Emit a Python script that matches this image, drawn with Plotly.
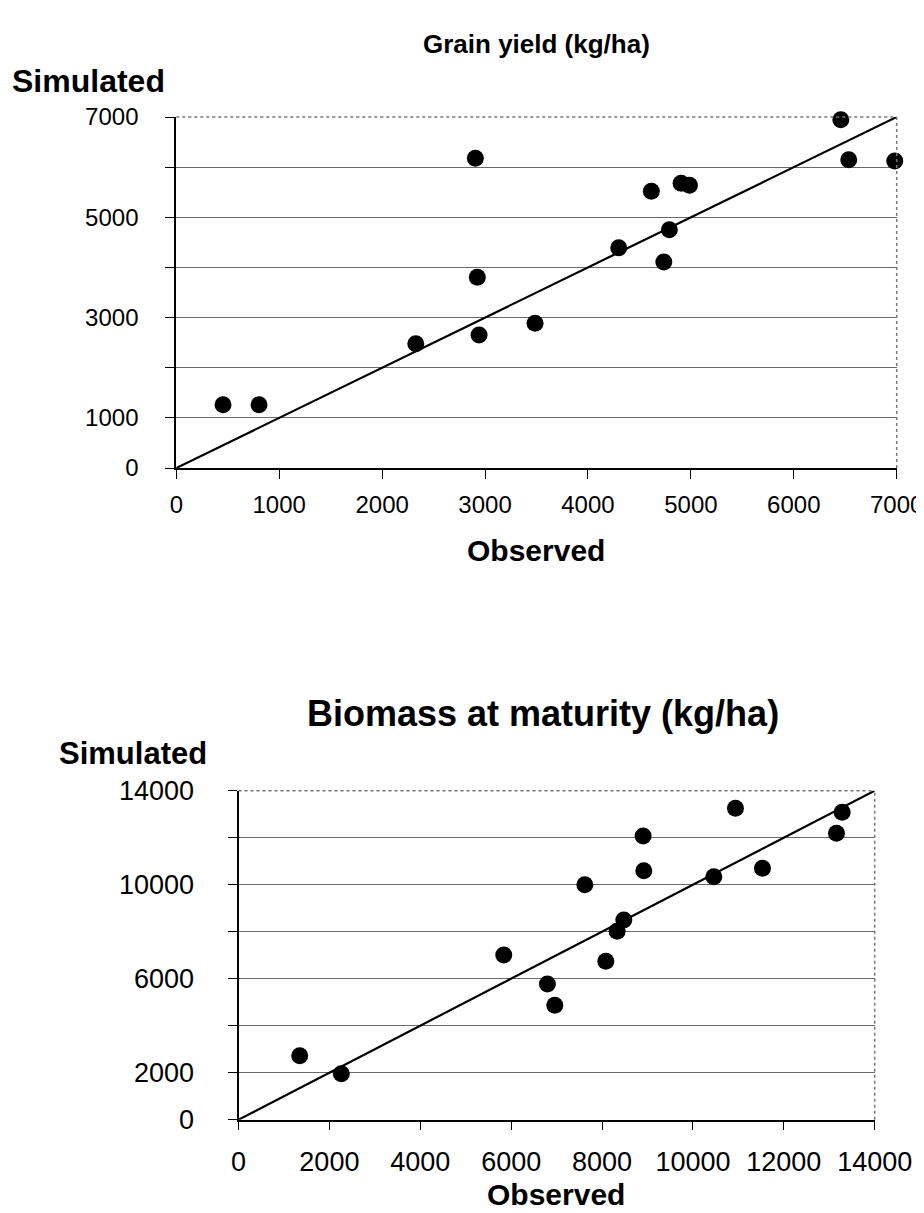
import plotly.graph_objects as go

W, H = 924, 1213

# ---- Data: Grain yield (kg/ha) ----
grain_observed = [454, 804, 2327, 2906, 2925, 2942, 3486, 4299, 4616, 4737, 4791, 4905, 4986, 6457, 6534, 6981]
grain_simulated = [1262, 1262, 2479, 6177, 3803, 2653, 2886, 4394, 5518, 4109, 4753, 5678, 5638, 6947, 6149, 6123]
grain_line = [0, 7000]
grain_x_ticks = [0, 1000, 2000, 3000, 4000, 5000, 6000, 7000]
grain_x_labels = ["0", "1000", "2000", "3000", "4000", "5000", "6000", "7000"]
grain_y_ticks = [0, 1000, 2000, 3000, 4000, 5000, 6000, 7000]
grain_y_labels = ["0", "1000", "", "3000", "", "5000", "", "7000"]

# ---- Data: Biomass at maturity (kg/ha) ----
biomass_observed = [1347, 2263, 5837, 6798, 6960, 7621, 8083, 8332, 8479, 8904, 8919, 10460, 10936, 11530, 13159, 13284]
biomass_simulated = [2723, 1957, 7009, 5774, 4868, 10000, 6740, 8017, 8498, 12072, 10596, 10340, 13251, 10698, 12187, 13081]
biomass_line = [0, 14000]
biomass_x_ticks = [0, 2000, 4000, 6000, 8000, 10000, 12000, 14000]
biomass_x_labels = ["0", "2000", "4000", "6000", "8000", "10000", "12000", "14000"]
biomass_y_ticks = [0, 2000, 4000, 6000, 8000, 10000, 12000, 14000]
biomass_y_labels = ["0", "2000", "", "6000", "", "10000", "", "14000"]

FONT = "Liberation Sans, Arial, sans-serif"


def px_x(x):
    return x / W


def px_y(y):
    return 1 - y / H


# plot area pixel boxes
top_box = dict(x0=168.3, x1=888.7, y0=109, y1=460)
bot_box = dict(x0=230.5, x1=866.7, y0=782.7, y1=1111.7)

fig = go.Figure()

fig.add_trace(go.Scatter(x=grain_line, y=grain_line, mode="lines",
                         line=dict(color="black", width=2.2),
                         xaxis="x", yaxis="y", showlegend=False, hoverinfo="skip"))
fig.add_trace(go.Scatter(x=grain_observed, y=grain_simulated, mode="markers",
                         marker=dict(color="black", size=17),
                         xaxis="x", yaxis="y", showlegend=False, cliponaxis=False))

fig.add_trace(go.Scatter(x=biomass_line, y=biomass_line, mode="lines",
                         line=dict(color="black", width=2.2),
                         xaxis="x2", yaxis="y2", showlegend=False, hoverinfo="skip"))
fig.add_trace(go.Scatter(x=biomass_observed, y=biomass_simulated, mode="markers",
                         marker=dict(color="black", size=17),
                         xaxis="x2", yaxis="y2", showlegend=False, cliponaxis=False))


def xa(size):
    return dict(showline=True, linecolor="black", linewidth=1.5, ticks="outside",
                ticklen=9, tickcolor="black", tickwidth=1, showgrid=False,
                zeroline=False, automargin=False,
                tickfont=dict(family=FONT, size=size, color="black"))


def ya(size):
    return dict(showline=True, linecolor="black", linewidth=2, ticks="outside",
                ticklen=9, tickcolor="black", tickwidth=1, showgrid=True,
                gridcolor="#6a6a6a", gridwidth=1, zeroline=False, automargin=False,
                tickfont=dict(family=FONT, size=size, color="black"))


fig.update_layout(
    width=W, height=H,
    margin=dict(l=0, r=0, t=0, b=0, pad=0, autoexpand=False),
    paper_bgcolor="white", plot_bgcolor="white",
    xaxis=dict(domain=[px_x(top_box["x0"]), px_x(top_box["x1"])], range=[0, 7000],
               tickvals=grain_x_ticks, ticktext=grain_x_labels, anchor="y",
               ticklabelstandoff=5, **xa(24)),
    yaxis=dict(domain=[px_y(top_box["y1"]), px_y(top_box["y0"])], range=[0, 7000],
               tickvals=grain_y_ticks, ticktext=grain_y_labels, anchor="x",
               ticklabelstandoff=22, **ya(24)),
    xaxis2=dict(domain=[px_x(bot_box["x0"]), px_x(bot_box["x1"])], range=[0, 14000],
                tickvals=biomass_x_ticks, ticktext=biomass_x_labels, anchor="y2",
                ticklabelstandoff=8, **xa(27)),
    yaxis2=dict(domain=[px_y(bot_box["y1"]), px_y(bot_box["y0"])], range=[0, 14000],
                tickvals=biomass_y_ticks, ticktext=biomass_y_labels, anchor="x2",
                ticklabelstandoff=28, **ya(27)),
)

# plot-area border (top and right) as dotted gray lines
for xr, yr in (("x domain", "y domain"), ("x2 domain", "y2 domain")):
    fig.add_shape(type="line", xref=xr, yref=yr, x0=0, x1=1, y0=1, y1=1,
                  line=dict(color="#777777", width=1.5, dash="dot"))
    fig.add_shape(type="line", xref=xr, yref=yr, x0=1, x1=1, y0=0, y1=1,
                  line=dict(color="#777777", width=1.5, dash="dot"))


def add_text(text, xpix, ypix, size, xanchor="center"):
    fig.add_annotation(text="<b>%s</b>" % text, x=px_x(xpix), y=px_y(ypix),
                       xref="paper", yref="paper", showarrow=False,
                       xanchor=xanchor, yanchor="middle", borderpad=0,
                       font=dict(family=FONT, size=size, color="black"))


add_text("Grain yield (kg/ha)", 528, 36, 26)
add_text("Simulated", 3, 73, 32, xanchor="left")
add_text("Observed", 528, 543, 30)

add_text("Biomass at maturity (kg/ha)", 535, 705, 36)
add_text("Simulated", 50, 745, 31, xanchor="left")
add_text("Observed", 548, 1186, 30)

fig.write_html("out.html")
